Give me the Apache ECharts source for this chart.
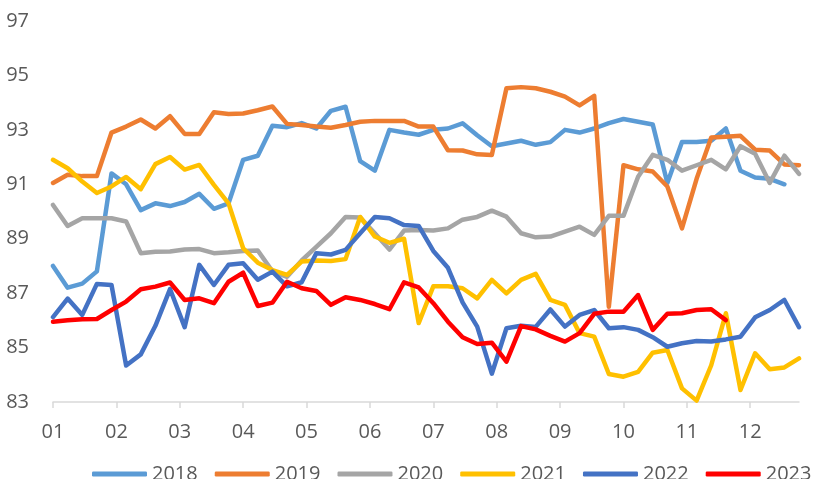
<!DOCTYPE html>
<html>
<head>
<meta charset="utf-8">
<script src="https://cdn.jsdelivr.net/npm/echarts@6/dist/echarts.min.js"></script>
<style>
  html, body { margin: 0; padding: 0; background: #fff; }
  #main { width: 818px; height: 479px; }
</style>
</head>
<body>
<div id="main"></div>
<script>
// 周度数据，每年 52 周
var years = ["2018", "2019", "2020", "2021", "2022", "2023"];
var monthLabels = ["01", "02", "03", "04", "05", "06", "07", "08", "09", "10", "11", "12"];
var weeksPerYear = 52;

var d2018 = [88.0, 87.2, 87.35, 87.8, 91.4, 91.0, 90.05, 90.3, 90.2, 90.35, 90.65, 90.1, 90.3, 91.9, 92.05, 93.15, 93.1, 93.25, 93.05, 93.7, 93.85, 91.85, 91.5, 93.0, 92.9, 92.82, 93.0, 93.05, 93.24, 92.8, 92.4, 92.5, 92.6, 92.45, 92.55, 93.0, 92.9, 93.05, 93.25, 93.4, 93.3, 93.2, 91.05, 92.55, 92.55, 92.6, 93.05, 91.5, 91.25, 91.2, 91.0];
var d2019 = [91.05, 91.35, 91.3, 91.3, 92.9, 93.12, 93.38, 93.05, 93.5, 92.85, 92.85, 93.65, 93.58, 93.6, 93.72, 93.86, 93.22, 93.18, 93.12, 93.08, 93.18, 93.3, 93.33, 93.33, 93.33, 93.12, 93.12, 92.25, 92.24, 92.1, 92.08, 94.53, 94.57, 94.53, 94.4, 94.22, 93.9, 94.25, 86.5, 91.7, 91.55, 91.47, 90.92, 89.38, 91.2, 92.72, 92.75, 92.78, 92.27, 92.24, 91.73, 91.7];
var d2020 = [90.24, 89.47, 89.75, 89.75, 89.75, 89.63, 88.47, 88.52, 88.53, 88.6, 88.62, 88.47, 88.5, 88.55, 88.57, 87.8, 87.6, 88.2, 88.7, 89.2, 89.8, 89.78, 89.2, 88.6, 89.3, 89.32, 89.3, 89.38, 89.7, 89.8, 90.03, 89.81, 89.2, 89.05, 89.08, 89.26, 89.44, 89.14, 89.84, 89.84, 91.28, 92.08, 91.9, 91.5, 91.7, 91.9, 91.55, 92.4, 92.12, 91.05, 92.05, 91.38];
var d2021 = [91.9, 91.59, 91.1, 90.68, 90.92, 91.27, 90.82, 91.74, 92.0, 91.54, 91.71, 90.98, 90.3, 88.65, 88.12, 87.85, 87.67, 88.16, 88.2, 88.18, 88.25, 89.8, 89.08, 88.85, 89.0, 85.9, 87.25, 87.25, 87.18, 86.81, 87.49, 86.99, 87.49, 87.71, 86.75, 86.57, 85.53, 85.4, 84.03, 83.93, 84.11, 84.81, 84.91, 83.5, 83.05, 84.35, 86.26, 83.44, 84.79, 84.2, 84.27, 84.6];
var d2022 = [86.12, 86.8, 86.2, 87.34, 87.3, 84.34, 84.75, 85.8, 87.15, 85.75, 88.04, 87.3, 88.04, 88.1, 87.49, 87.79, 87.25, 87.4, 88.47, 88.42, 88.59, 89.2, 89.8, 89.75, 89.5, 89.47, 88.55, 87.93, 86.66, 85.77, 84.04, 85.71, 85.8, 85.76, 86.4, 85.77, 86.2, 86.38, 85.71, 85.75, 85.65, 85.38, 85.03, 85.16, 85.24, 85.22, 85.3, 85.4, 86.11, 86.38, 86.75, 85.75];
var d2023 = [85.95, 86.0, 86.04, 86.05, 86.38, 86.69, 87.14, 87.24, 87.39, 86.75, 86.81, 86.63, 87.42, 87.75, 86.53, 86.65, 87.42, 87.18, 87.08, 86.57, 86.85, 86.75, 86.6, 86.41, 87.4, 87.21, 86.63, 85.95, 85.38, 85.13, 85.18, 84.48, 85.79, 85.67, 85.43, 85.22, 85.53, 86.24, 86.32, 86.32, 86.93, 85.65, 86.24, 86.26, 86.38, 86.41, 86.01];

var colors = ["#5b9bd5", "#ed7d31", "#a5a5a5", "#ffc000", "#4472c4", "#ff0000"];
var allData = [d2018, d2019, d2020, d2021, d2022, d2023];

var textColor = "#595959";
var fontName = "Open Sans";

// 月份刻度位置（按周换算）
var monthStep = weeksPerYear / 12;
var monthTicks = monthLabels.map(function (m, i) { return i * monthStep; });

function toPairs(arr) {
  return arr.map(function (v, i) { return [i, v]; });
}

var series = years.map(function (y, k) {
  return {
    name: y,
    type: "line",
    data: toPairs(allData[k]),
    symbol: "none",
    lineStyle: { width: 4.5, color: colors[k], cap: "round", join: "round" },
    itemStyle: { color: colors[k] }
  };
});

var myChart = echarts.init(document.getElementById("main"));

var option = {
  animation: false,
  color: colors,
  grid: {
    left: 53,
    right: 19,
    top: 21,
    bottom: 77,
    containLabel: false
  },
  legend: {
    data: years,
    top: 464,
    left: 92,
    padding: 0,
    icon: "roundRect",
    itemWidth: 55,
    itemHeight: 5,
    itemGap: 17,
    textStyle: { color: textColor, fontSize: 20, fontFamily: fontName }
  },
  xAxis: {
    type: "value",
    min: 0,
    max: weeksPerYear - 1,
    splitLine: { show: false },
    axisLine: { show: true, lineStyle: { color: "#d9d9d9", width: 1.5 } },
    axisTick: {
      show: true,
      length: 6,
      customValues: monthTicks,
      lineStyle: { color: "#d9d9d9", width: 1.5 }
    },
    axisLabel: {
      customValues: monthTicks,
      margin: 20,
      color: textColor,
      fontSize: 20,
      fontFamily: fontName,
      formatter: function (v) {
        var idx = Math.round(v / monthStep);
        return monthLabels[idx] || "";
      }
    }
  },
  yAxis: {
    type: "value",
    min: 83,
    max: 97,
    interval: 2,
    splitLine: { show: false },
    axisLine: { show: false },
    axisTick: { show: false },
    axisLabel: {
      margin: 24,
      color: textColor,
      fontSize: 20,
      fontFamily: fontName
    }
  },
  series: series
};

myChart.setOption(option);
</script>
</body>
</html>
